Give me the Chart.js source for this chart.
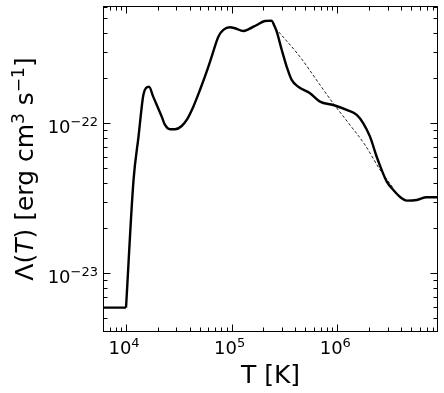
<!DOCTYPE html>
<html>
<head>
<meta charset="utf-8">
<script src="https://cdn.jsdelivr.net/npm/chart.js@4.4.0/dist/chart.umd.min.js"></script>
<style>
  html, body { margin: 0; padding: 0; background: #fff; }
  #wrap { width: 444px; height: 393px; }
</style>
</head>
<body>
<div id="wrap"><canvas id="cooling" width="444" height="393"></canvas></div>
<script>
// cooling curve: T [K] and Lambda [erg cm^3 s^-1]
const temps = [5.0e3, 1.0e4, 1.178e4, 1.313e4, 1.458e4, 1.545e4, 1.651e4, 1.812e4, 2.177e4,
    2.34e4, 2.61e4, 2.91e4, 3.365e4, 3.753e4, 4.335e4, 5.01e4, 5.80e4, 6.47e4, 7.48e4,
    8.34e4, 9.64e4, 1.076e5, 1.289e5, 1.438e5, 1.727e5, 2.07e5, 2.394e5, 2.518e5, 2.67e5,
    2.98e5, 3.32e5, 3.70e5, 4.27e5, 5.52e5, 6.86e5, 9.16e5, 1.227e6, 1.527e6, 1.762e6,
    2.04e6, 2.36e6, 2.63e6, 2.94e6, 3.39e6, 4.07e6, 4.54e6, 5.65e6, 7.02e6, 1.0e7];
const lambda = [5.9e-24, 5.9e-24, 4.19e-23, 8.15e-23, 1.545e-22, 1.72e-22, 1.75e-22, 1.50e-22, 1.107e-22,
    9.74e-23, 9.12e-23, 9.12e-23, 9.59e-23, 1.052e-22, 1.29e-22, 1.667e-22, 2.21e-22, 2.78e-22, 3.78e-22,
    4.19e-22, 4.37e-22, 4.30e-22, 4.12e-22, 4.23e-22, 4.52e-22, 4.81e-22, 4.83e-22, 4.52e-22, 4.08e-22,
    3.08e-22, 2.38e-22, 1.945e-22, 1.75e-22, 1.585e-22, 1.393e-22, 1.324e-22, 1.227e-22, 1.136e-22, 1.0e-22,
    8.14e-23, 5.98e-23, 4.89e-23, 4.08e-23, 3.59e-23, 3.16e-23, 3.05e-23, 3.08e-23, 3.21e-23, 3.21e-23];
// the floor below 1e4 K ends in a sharp corner
const floorCount = 2;

// thin dashed comparison curve
const cieTemps = [2.6e5, 4.44e5, 6.86e5, 9.10e5, 1.318e6, 1.83e6, 2.54e6, 3.37e6];
const cieLambda = [4.3e-22, 2.77e-22, 1.80e-22, 1.365e-22, 9.74e-23, 7.17e-23, 4.89e-23, 3.71e-23];

// axis ranges and tick decades
const xRange = [6054, 8.98e6];
const yRange = [4.06e-24, 6.05e-22];
const xDecades = [3, 4, 5, 6];
const yDecades = [-24, -23, -22];
const xLabelExps = [4, 5, 6];
const yLabelExps = [-23, -22];
const minorSteps = [2, 3, 4, 5, 6, 7, 8, 9];

const FONT = '"DejaVu Sans", sans-serif';

function supText(exp) {
    return exp < 0 ? '\u2212' + Math.abs(exp) : String(exp);
}

function tickValues(decades, range) {
    const major = [], minor = [];
    decades.forEach(d => {
        const base = Math.pow(10, d);
        if (base >= range[0] && base <= range[1]) major.push(base);
        minorSteps.forEach(m => {
            const v = m * base;
            if (v > range[0] && v < range[1]) minor.push(v);
        });
    });
    return { major, minor };
}

function toPoints(xs, ys) {
    return xs.map((t, i) => ({ x: t, y: ys[i] }));
}

// draw "10^n" with the base line at y
function drawPower(ctx, exp, x, y, align) {
    const sup = supText(exp);
    ctx.font = '18px ' + FONT;
    const wb = ctx.measureText('10').width;
    ctx.font = '13px ' + FONT;
    const ws = ctx.measureText(sup).width;
    const x0 = align === 'center' ? x - (wb + ws) / 2 - 2 : x - (wb + ws);
    ctx.textAlign = 'left';
    ctx.textBaseline = 'alphabetic';
    ctx.font = '18px ' + FONT;
    ctx.fillText('10', x0, y);
    ctx.font = '13px ' + FONT;
    ctx.fillText(sup, x0 + wb, y - 7);
}

const frameTicks = {
    id: 'frameTicks',
    afterDraw(chart) {
        const ctx = chart.ctx;
        const area = chart.chartArea;
        const xs = chart.scales.x, ys = chart.scales.y;
        const L = Math.round(area.left) + 0.5, R = Math.round(area.right) - 0.5;
        const T = Math.round(area.top) + 0.5, B = Math.round(area.bottom) - 0.5;

        ctx.save();
        ctx.strokeStyle = '#000';
        ctx.lineWidth = 1;
        ctx.strokeRect(L, T, R - L, B - T);

        const xt = tickValues(xDecades, xRange);
        const yt = tickValues(yDecades, yRange);
        ctx.beginPath();
        [[xt.major, 7], [xt.minor, 4]].forEach(([vals, len]) => {
            vals.forEach(v => {
                const px = Math.round(xs.getPixelForValue(v)) + 0.5;
                ctx.moveTo(px, B); ctx.lineTo(px, B - len);
                ctx.moveTo(px, T); ctx.lineTo(px, T + len);
            });
        });
        [[yt.major, 7], [yt.minor, 4]].forEach(([vals, len]) => {
            vals.forEach(v => {
                const py = Math.round(ys.getPixelForValue(v)) + 0.5;
                ctx.moveTo(L, py); ctx.lineTo(L + len, py);
                ctx.moveTo(R, py); ctx.lineTo(R - len, py);
            });
        });
        ctx.stroke();

        ctx.fillStyle = '#000';
        xLabelExps.forEach(e => {
            drawPower(ctx, e, xs.getPixelForValue(Math.pow(10, e)), 354, 'center');
        });
        yLabelExps.forEach(e => {
            const py = ys.getPixelForValue(Math.pow(10, e));
            drawPower(ctx, e, area.left - 5, py + 9.7, 'right');
        });

        // x title
        ctx.font = '25px ' + FONT;
        ctx.textAlign = 'center';
        ctx.fillText('T [K]', (area.left + area.right) / 2, 383);

        // y title, rotated, with italic T and superscripts
        const parts = [
            { t: '\u039B(', f: '25px ' + FONT, dy: 0 },
            { t: 'T', f: 'italic 25px ' + FONT, dy: 0 },
            { t: ') [erg cm', f: '25px ' + FONT, dy: 0 },
            { t: '3', f: '17px ' + FONT, dy: -9 },
            { t: ' s', f: '25px ' + FONT, dy: 0 },
            { t: '\u22121', f: '17px ' + FONT, dy: -9 },
            { t: ']', f: '25px ' + FONT, dy: 0 }
        ];
        let total = 0;
        parts.forEach(p => { ctx.font = p.f; p.w = ctx.measureText(p.t).width; total += p.w; });
        ctx.translate(33, (area.top + area.bottom) / 2);
        ctx.rotate(-Math.PI / 2);
        ctx.textAlign = 'left';
        let cx = -total / 2;
        parts.forEach(p => {
            ctx.font = p.f;
            ctx.fillText(p.t, cx, p.dy);
            cx += p.w;
        });
        ctx.restore();
    }
};

const solidStyle = {
    borderColor: '#000',
    borderWidth: 2.4,
    pointRadius: 0,
    fill: false
};

new Chart(document.getElementById('cooling'), {
    type: 'line',
    data: {
        datasets: [
            Object.assign({
                label: 'floor',
                data: toPoints(temps.slice(0, floorCount), lambda.slice(0, floorCount)),
                tension: 0
            }, solidStyle),
            Object.assign({
                label: 'cooling',
                data: toPoints(temps.slice(floorCount - 1), lambda.slice(floorCount - 1)),
                cubicInterpolationMode: 'monotone'
            }, solidStyle),
            {
                label: 'CIE',
                data: toPoints(cieTemps, cieLambda),
                borderColor: '#222',
                borderWidth: 1,
                borderDash: [3, 2],
                pointRadius: 0,
                fill: false,
                cubicInterpolationMode: 'monotone'
            }
        ]
    },
    options: {
        responsive: false,
        animation: false,
        devicePixelRatio: 1,
        layout: { padding: { top: 6, right: 6, left: 0, bottom: 0 } },
        plugins: { legend: { display: false }, tooltip: { enabled: false } },
        scales: {
            x: {
                type: 'logarithmic',
                min: xRange[0],
                max: xRange[1],
                grid: { display: false },
                border: { display: false },
                ticks: { display: false },
                afterFit: s => { s.height = 61; }
            },
            y: {
                type: 'logarithmic',
                min: yRange[0],
                max: yRange[1],
                grid: { display: false },
                border: { display: false },
                ticks: { display: false },
                afterFit: s => { s.width = 103; }
            }
        }
    },
    plugins: [frameTicks]
});
</script>
</body>
</html>
